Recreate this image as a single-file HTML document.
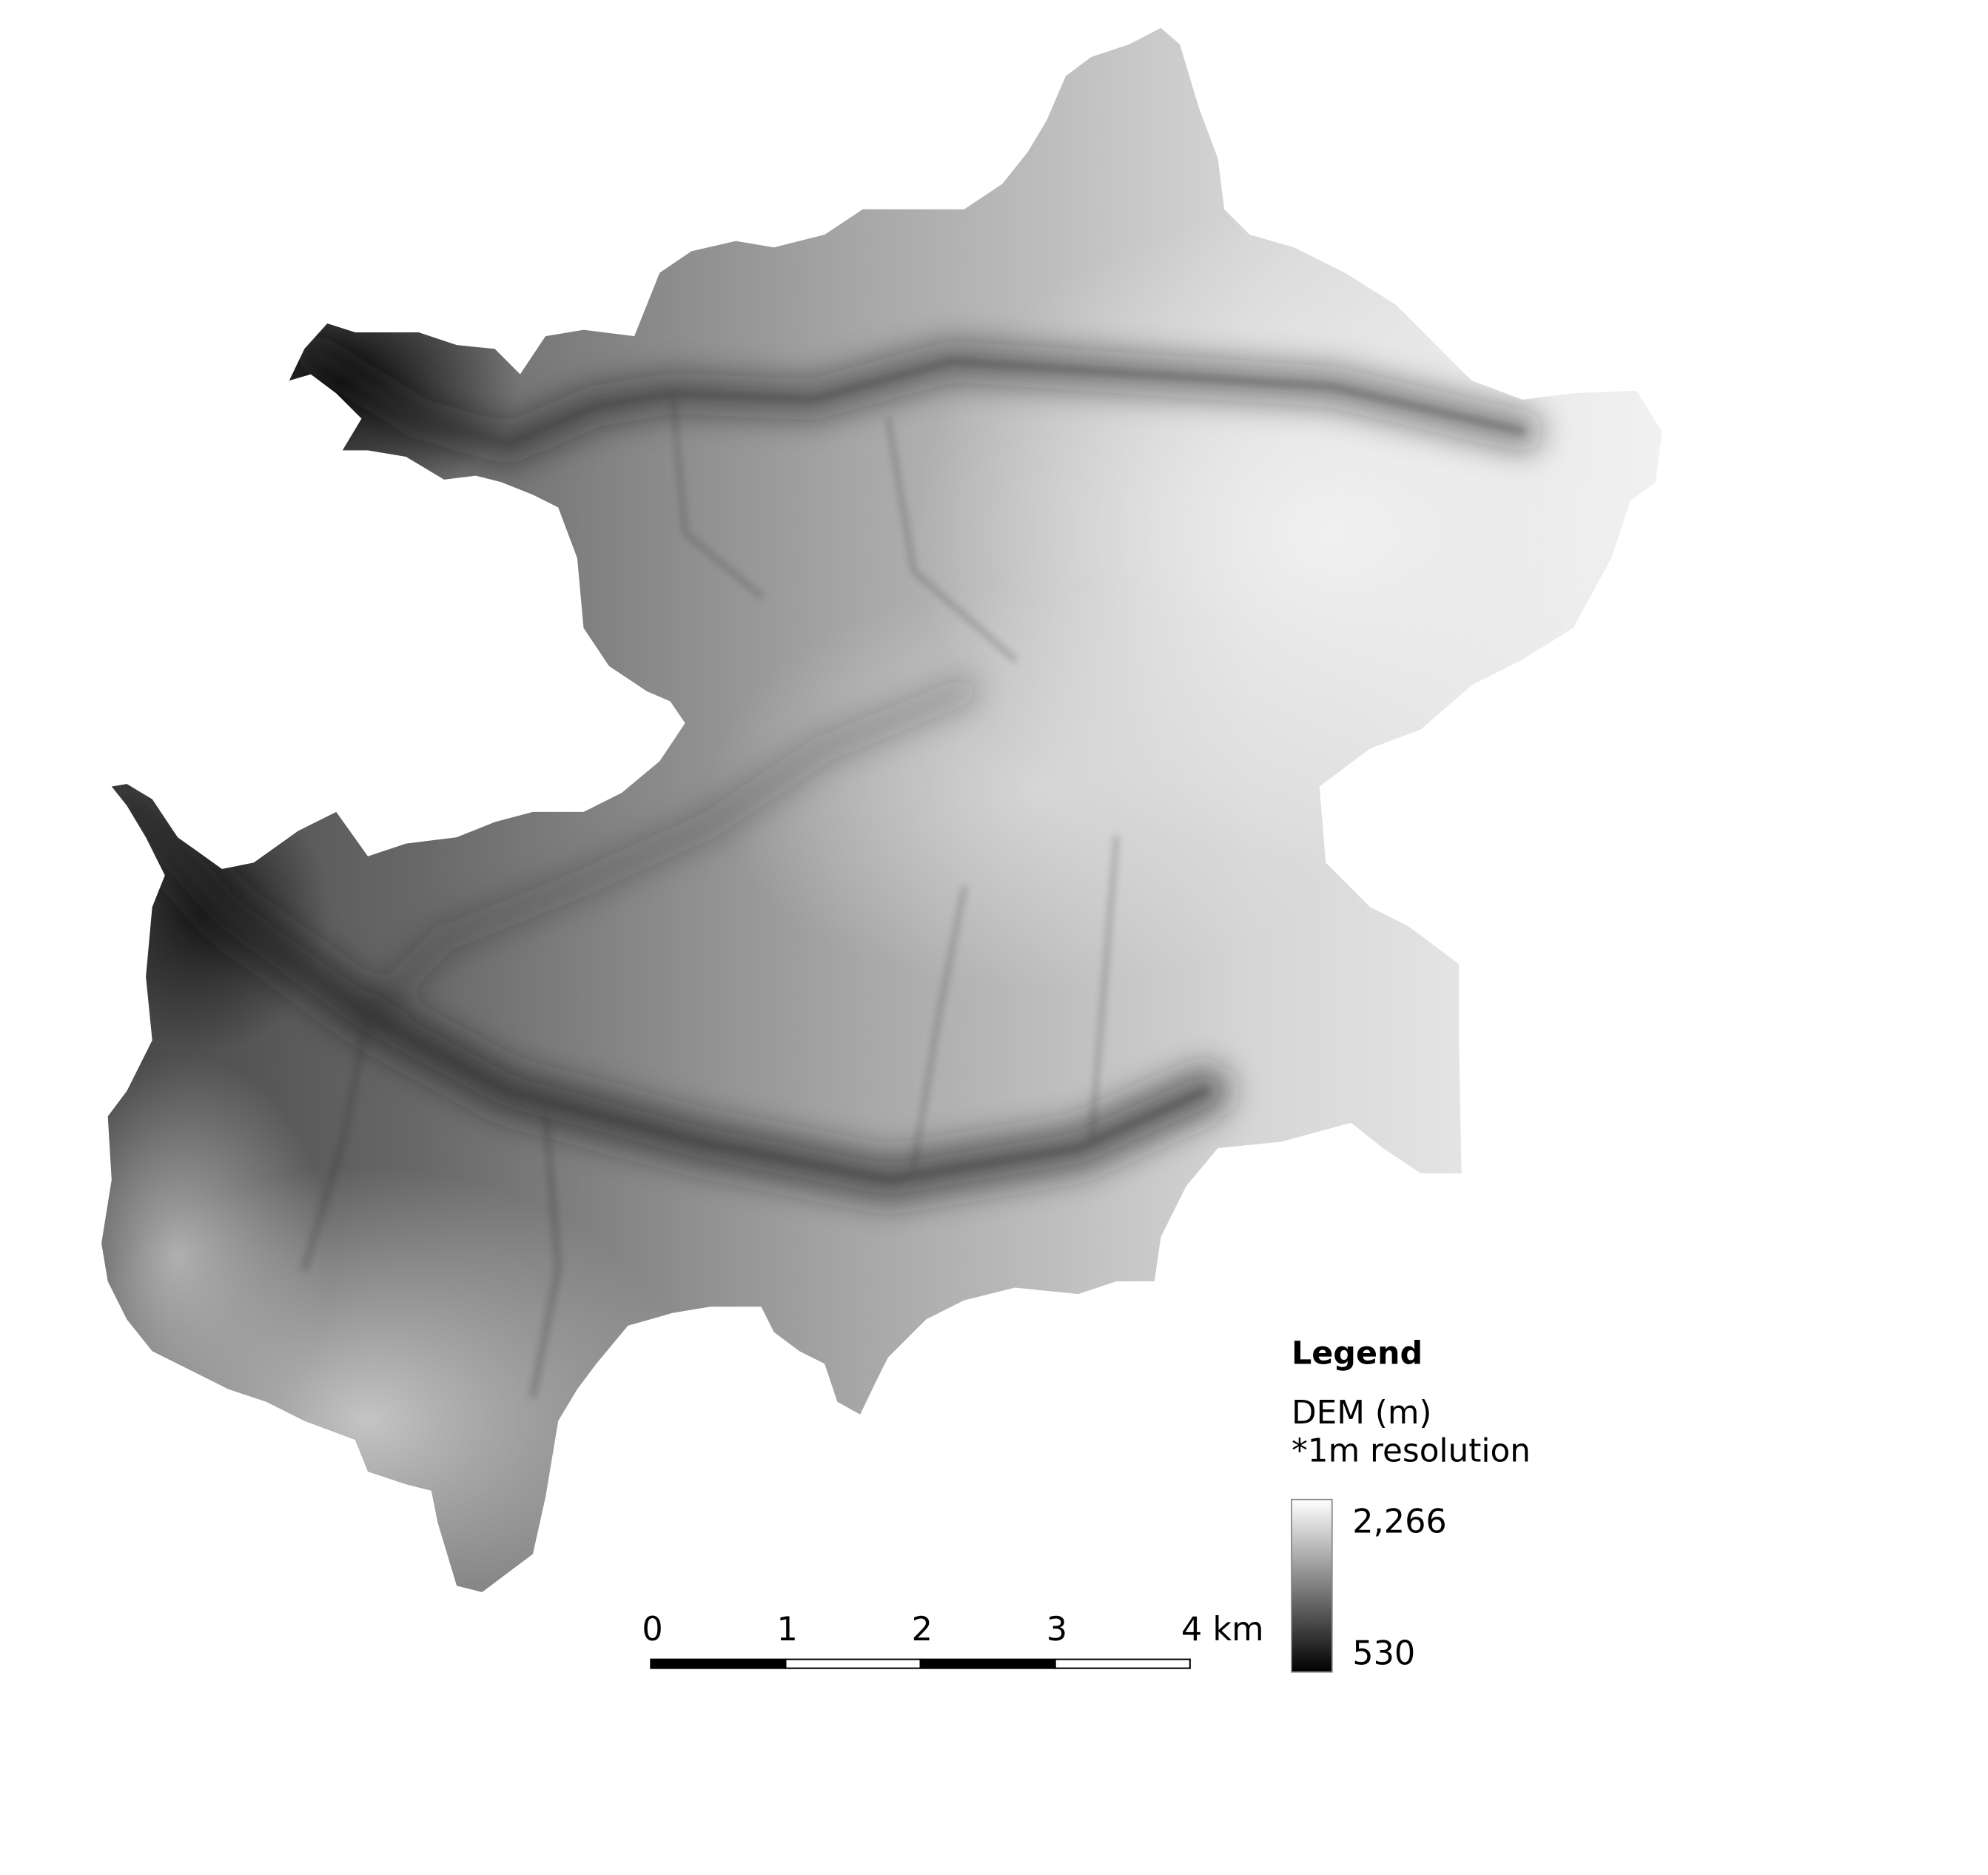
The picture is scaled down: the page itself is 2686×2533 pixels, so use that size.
<!DOCTYPE html>
<html><head><meta charset="utf-8">
<style>
html,body{margin:0;padding:0;background:#fff;}
svg{display:block;}
text{font-family:"DejaVu Sans","Liberation Sans",sans-serif;fill:#000;}
</style></head>
<body>
<svg id="map" width="2686" height="2533" viewBox="0 0 1567 1478" preserveAspectRatio="none" xmlns="http://www.w3.org/2000/svg">
<defs>
  <linearGradient id="baseGrad" x1="0" y1="0" x2="1" y2="0">
    <stop offset="0" stop-color="#3a3a3a"/>
    <stop offset="0.25" stop-color="#686868"/>
    <stop offset="0.5" stop-color="#a4a4a4"/>
    <stop offset="0.75" stop-color="#d6d6d6"/>
    <stop offset="1" stop-color="#f2f2f2"/>
  </linearGradient>
  <radialGradient id="lightEast" cx="0.5" cy="0.5" r="0.5">
    <stop offset="0" stop-color="#f0f0f0" stop-opacity="1"/>
    <stop offset="1" stop-color="#f0f0f0" stop-opacity="0"/>
  </radialGradient>
  <radialGradient id="lightSW" cx="0.5" cy="0.5" r="0.5">
    <stop offset="0" stop-color="#c4c4c4" stop-opacity="1"/>
    <stop offset="1" stop-color="#c4c4c4" stop-opacity="0"/>
  </radialGradient>
  <radialGradient id="darkW" cx="0.5" cy="0.5" r="0.5">
    <stop offset="0" stop-color="#000" stop-opacity="0.85"/>
    <stop offset="1" stop-color="#000" stop-opacity="0"/>
  </radialGradient>
  <linearGradient id="barGrad" x1="0" y1="0" x2="0" y2="1">
    <stop offset="0" stop-color="#ffffff"/>
    <stop offset="1" stop-color="#000000"/>
  </linearGradient>
  <filter id="blur12"><feGaussianBlur stdDeviation="12"/></filter>
  <filter id="blur4"><feGaussianBlur stdDeviation="3"/></filter>
  <clipPath id="basin">
    <polygon points="228,300 240,275 258,255 280,262 300,262 330,262 360,272 390,275 410,295 430,265 460,260 500,265 520,215 545,198 580,190 610,195 650,185 680,165 720,165 760,165 790,145 810,120 825,95 840,60 860,45 890,35 915,22 930,35 945,85 960,125 965,165 985,185 1020,195 1060,215 1100,240 1130,270 1160,300 1200,315 1240,310 1290,308 1310,340 1305,380 1285,395 1270,440 1240,495 1200,520 1160,540 1120,575 1080,590 1040,620 1045,680 1080,715 1110,730 1150,760 1150,820 1152,925 1120,925 1090,905 1065,885 1010,900 960,905 935,935 915,975 910,1010 880,1010 850,1020 800,1015 760,1025 730,1040 715,1055 700,1070 690,1090 678,1115 660,1105 650,1075 630,1065 610,1050 600,1030 560,1030 530,1035 495,1045 470,1075 455,1095 440,1120 430,1180 420,1225 400,1240 380,1255 360,1250 345,1200 340,1175 320,1170 290,1160 280,1135 240,1120 210,1105 180,1095 150,1080 120,1065 100,1040 85,1010 80,980 88,930 85,880 100,860 120,820 115,770 120,715 130,690 115,660 100,635 88,620 100,618 120,630 140,660 175,685 200,680 235,655 265,640 290,675 320,665 360,660 390,648 420,640 460,640 490,625 520,600 540,570 525,548 550,525 575,530 565,545 545,560 510,545 480,525 460,495 455,440 440,400 420,390 395,380 375,375 350,378 320,360 290,355 270,355 285,330 265,310 245,295"/>
  </clipPath>
</defs>
<rect width="1567" height="1478" fill="#fff"/>
<g clip-path="url(#basin)">
  <rect x="0" y="0" width="1320" height="1300" fill="url(#baseGrad)"/>
  <ellipse cx="1050" cy="420" rx="330" ry="260" fill="url(#lightEast)"/>
  <ellipse cx="820" cy="620" rx="260" ry="160" fill="url(#lightEast)" opacity="0.5"/>
  <ellipse cx="290" cy="1120" rx="260" ry="200" fill="url(#lightSW)"/>
  <ellipse cx="140" cy="990" rx="120" ry="160" fill="url(#lightSW)" opacity="0.8"/>
  <ellipse cx="270" cy="300" rx="140" ry="100" fill="url(#darkW)"/>
  <ellipse cx="160" cy="720" rx="100" ry="110" fill="url(#darkW)" opacity="0.8"/>
  <g filter="url(#blur12)" fill="none" stroke="#1c1c1c" stroke-linecap="round">
    <polyline points="250,280 330,330 400,350 470,320 530,310 640,315 750,285 900,295 1050,305 1200,340" stroke-width="32" opacity="0.45"/>
    <polyline points="100,630 180,720 290,800 400,860 550,900 700,930 850,905 950,860" stroke-width="40" opacity="0.55"/>
    <polyline points="290,800 350,740 450,700 560,650 650,590 760,545" stroke-width="22" opacity="0.25"/>
  </g>
  <g filter="url(#blur4)" fill="none" stroke="#333" stroke-linecap="round" opacity="0.35">
    <polyline points="250,280 330,330 400,350 470,320 530,310 640,315 750,285 900,295 1050,305 1200,340" stroke-width="5"/>
    <polyline points="100,630 180,720 290,800 400,860 550,900 700,930 850,905 950,860" stroke-width="6"/>
    <polyline points="290,800 270,900 240,1000" stroke-width="4"/>
    <polyline points="430,880 440,1000 420,1100" stroke-width="4"/>
    <polyline points="760,700 740,800 720,920" stroke-width="3"/>
    <polyline points="880,660 870,780 860,900" stroke-width="3"/>
    <polyline points="530,310 540,420 600,470" stroke-width="3"/>
    <polyline points="700,330 720,450 800,520" stroke-width="3"/>
  </g>
</g>
<g id="legend">
  <text x="1018" y="1075" font-size="25" font-weight="bold">Legend</text>
  <text x="1018" y="1122" font-size="25.5">DEM (m)</text>
  <text x="1018" y="1152" font-size="25.5">*1m resolution</text>
  <rect x="1018" y="1182" width="32" height="136" fill="url(#barGrad)" stroke="#888" stroke-width="1"/>
</g>
<g id="scale"></g>
<script>
const legendValues = ["2,266", "530"];
const scaleTicks = [0, 1, 2, 3, 4];
const scaleUnit = "km";
const NS = "http://www.w3.org/2000/svg";
const lg = document.getElementById('legend');
const legendY = [1208, 1312];
legendValues.forEach((v, i) => {
  const t = document.createElementNS(NS, 'text');
  t.setAttribute('x', 1066);
  t.setAttribute('y', legendY[i]);
  t.setAttribute('font-size', '26');
  t.textContent = v;
  
  
  lg.appendChild(t);
});
const sc = document.getElementById('scale');
const x0 = 513, x1 = 938;
const maxT = scaleTicks[scaleTicks.length - 1];
const sx = v => x0 + (x1 - x0) * v / maxT;
for (let i = 0; i < scaleTicks.length - 1; i++) {
  const r = document.createElementNS(NS, 'rect');
  r.setAttribute('x', sx(scaleTicks[i]));
  r.setAttribute('y', 1308);
  r.setAttribute('width', sx(scaleTicks[i + 1]) - sx(scaleTicks[i]));
  r.setAttribute('height', 7);
  r.setAttribute('fill', i % 2 === 0 ? '#000' : '#fff');
  r.setAttribute('stroke', '#000');
  r.setAttribute('stroke-width', '1.2');
  
  
  sc.appendChild(r);
}
scaleTicks.forEach((v, i) => {
  const t = document.createElementNS(NS, 'text');
  t.setAttribute('x', sx(v) - 7);
  t.setAttribute('y', 1293);
  t.setAttribute('font-size', '26');
  t.textContent = i === scaleTicks.length - 1 ? v + ' ' + scaleUnit : String(v);
  
  
  sc.appendChild(t);
});
</script>
</svg>
</body></html>
